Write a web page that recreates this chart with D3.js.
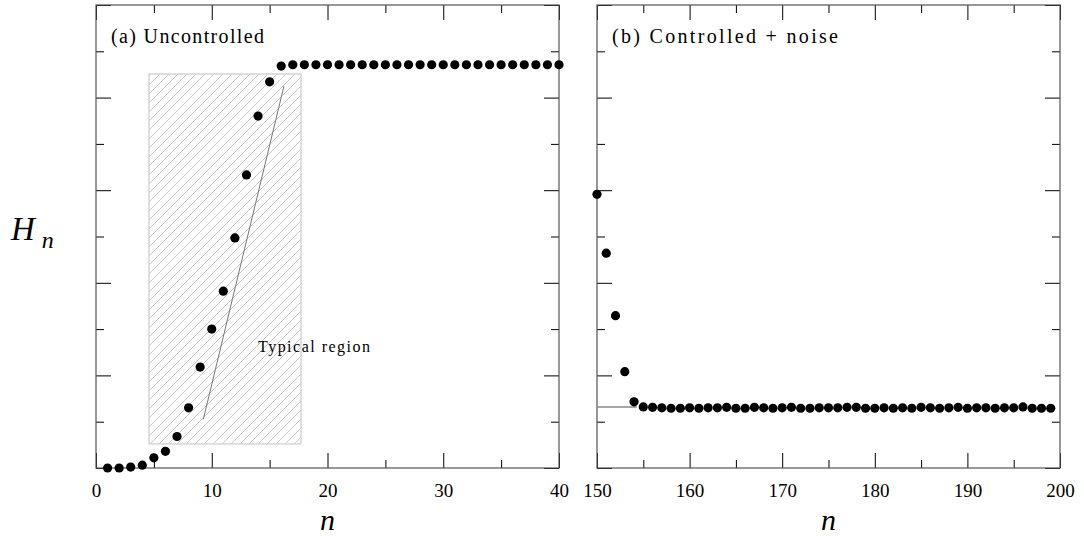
<!DOCTYPE html>
<html>
<head>
<meta charset="utf-8">
<script src="https://cdn.jsdelivr.net/npm/d3@7"></script>
<style>
	body { margin: 0; background: #fff; }
	text { font-family: "Liberation Serif", "DejaVu Serif", serif; fill: #000; }
</style>
</head>
<body>
<svg id="plot" width="1084" height="540"></svg>
<script>
// values, H_n for n = 1..40
const LEFT_START = 1;
const LEFT_VALUES = [0.00, 0.00, 0.02, 0.06, 0.22, 0.36, 0.68, 1.30, 2.18, 3.00,
	3.82, 4.97, 6.33, 7.60, 8.34, 8.68, 8.71, 8.71, 8.71, 8.71,
	8.71, 8.71, 8.71, 8.71, 8.71, 8.71, 8.71, 8.71, 8.71, 8.71,
	8.71, 8.71, 8.71, 8.71, 8.71, 8.71, 8.71, 8.71, 8.71, 8.71];

// H_n for n = 150..199
const RIGHT_START = 150;
const RIGHT_VALUES = [5.91, 4.64, 3.29, 2.08, 1.43, 1.32, 1.31, 1.30, 1.29, 1.29,
	1.30, 1.29, 1.30, 1.30, 1.31, 1.29, 1.29, 1.31, 1.30, 1.29,
	1.30, 1.31, 1.29, 1.29, 1.30, 1.30, 1.30, 1.31, 1.31, 1.29,
	1.29, 1.30, 1.29, 1.30, 1.29, 1.31, 1.30, 1.29, 1.30, 1.31,
	1.29, 1.30, 1.30, 1.29, 1.30, 1.30, 1.32, 1.29, 1.29, 1.29];

const LEFT_MAJOR = [0, 10, 20, 30, 40];
const LEFT_MINOR = [5, 15, 25, 35];
const RIGHT_MAJOR = [150, 160, 170, 180, 190, 200];
const RIGHT_MINOR = [155, 165, 175, 185, 195];
const Y_MAJOR = [0, 2, 4, 6, 8, 10];
const Y_MINOR = [1, 3, 5, 7, 9];

// shaded "typical region" box and the slanted guide line (data units)
const REGION = { x0: 4.58, x1: 17.71, y0: 0.52, y1: 8.51 };
const GUIDE = [[9.27, 1.05], [16.24, 8.25]];
// reference level in panel (b)
const TARGET = [[150, 1.32], [154.3, 1.32]];

const TOP = 5, BOTTOM = 468;
const SERIF = '"Liberation Serif", "DejaVu Serif", serif';

function whenDocumentLoaded(action) {
	if (document.readyState === "loading") {
		document.addEventListener("DOMContentLoaded", action);
	} else {
		action();
	}
}

function drawPanel(svg, opt) {
	let x = d3.scaleLinear().domain(opt.domain).range([opt.left, opt.right]);
	let y = d3.scaleLinear().domain([0, 10]).range([BOTTOM, TOP]);
	let g = svg.append('g');

	// ticks (inward, on all four sides)
	const axes = [
		[d3.axisBottom(x).tickValues(opt.major).tickSizeInner(-15).tickSizeOuter(0).tickPadding(16).tickFormat(d3.format('d')), `translate(0,${BOTTOM})`],
		[d3.axisBottom(x).tickValues(opt.minor).tickSizeInner(-8).tickSizeOuter(0).tickFormat(''), `translate(0,${BOTTOM})`],
		[d3.axisTop(x).tickValues(opt.major).tickSizeInner(-15).tickSizeOuter(0).tickFormat(''), `translate(0,${TOP})`],
		[d3.axisTop(x).tickValues(opt.minor).tickSizeInner(-8).tickSizeOuter(0).tickFormat(''), `translate(0,${TOP})`],
		[d3.axisLeft(y).tickValues(Y_MAJOR).tickSizeInner(-15).tickSizeOuter(0).tickFormat(''), `translate(${opt.left},0)`],
		[d3.axisLeft(y).tickValues(Y_MINOR).tickSizeInner(-8).tickSizeOuter(0).tickFormat(''), `translate(${opt.left},0)`],
		[d3.axisRight(y).tickValues(Y_MAJOR).tickSizeInner(-15).tickSizeOuter(0).tickFormat(''), `translate(${opt.right},0)`],
		[d3.axisRight(y).tickValues(Y_MINOR).tickSizeInner(-8).tickSizeOuter(0).tickFormat(''), `translate(${opt.right},0)`]
	];
	axes.forEach(a => {
		let ax = g.append('g').attr('transform', a[1]).call(a[0]);
		ax.select('.domain').remove();
		ax.selectAll('line').attr('stroke', '#000').attr('stroke-width', 1);
		ax.selectAll('text')
			.style('font-family', SERIF)
			.style('font-size', '19px')
			.attr('fill', '#000');
	});

	// frame
	g.append('rect')
		.attr('x', opt.left).attr('y', TOP)
		.attr('width', opt.right - opt.left).attr('height', BOTTOM - TOP)
		.attr('fill', 'none').attr('stroke', '#555').attr('stroke-width', 1.2);

	if (opt.extra) opt.extra(g, x, y);

	g.selectAll('circle.pt')
		.data(opt.values)
		.enter()
		.append('circle')
		.attr('class', 'pt')
		.attr('cx', (d, i) => x(opt.start + i))
		.attr('cy', d => y(d))
		.attr('r', 4.6)
		.attr('fill', '#000');

	g.append('text')
		.attr('x', opt.left + 15).attr('y', 43)
		.attr('font-size', 20)
		.attr('textLength', opt.titleWidth)
		.attr('lengthAdjust', 'spacing')
		.text(opt.title);

	g.append('text')
		.attr('x', (opt.left + opt.right) / 2).attr('y', 530)
		.attr('text-anchor', 'middle')
		.attr('font-size', 30).attr('font-style', 'italic')
		.text('n');
}

whenDocumentLoaded(() => {
	let svg = d3.select('#plot');

	let defs = svg.append('defs');
	defs.append('pattern')
		.attr('id', 'hatch')
		.attr('patternUnits', 'userSpaceOnUse')
		.attr('width', 9).attr('height', 9)
		.append('path')
		.attr('d', 'M-2,2 l4,-4 M0,9 l9,-9 M7,11 l4,-4')
		.attr('stroke', '#c8c8c8').attr('stroke-width', 1);

	drawPanel(svg, {
		domain: [0, 40], left: 96, right: 559,
		major: LEFT_MAJOR, minor: LEFT_MINOR,
		values: LEFT_VALUES, start: LEFT_START,
		title: '(a) Uncontrolled', titleWidth: 153,
		extra: (g, x, y) => {
			g.append('rect')
				.attr('x', x(REGION.x0)).attr('y', y(REGION.y1))
				.attr('width', x(REGION.x1) - x(REGION.x0))
				.attr('height', y(REGION.y0) - y(REGION.y1))
				.attr('fill', 'url(#hatch)')
				.attr('stroke', '#d6d6d6').attr('stroke-width', 1.5);
			g.append('path')
				.attr('d', d3.line().x(d => x(d[0])).y(d => y(d[1]))(GUIDE))
				.attr('stroke', '#777').attr('stroke-width', 1).attr('fill', 'none');
			g.append('text')
				.attr('x', 258).attr('y', 352)
				.attr('font-size', 16)
				.attr('textLength', 112)
				.attr('lengthAdjust', 'spacing')
				.text('Typical region');
		}
	});

	drawPanel(svg, {
		domain: [150, 200], left: 597, right: 1060,
		major: RIGHT_MAJOR, minor: RIGHT_MINOR,
		values: RIGHT_VALUES, start: RIGHT_START,
		title: '(b) Controlled + noise', titleWidth: 226,
		extra: (g, x, y) => {
			g.append('path')
				.attr('d', d3.line().x(d => x(d[0])).y(d => y(d[1]))(TARGET))
				.attr('stroke', '#888').attr('stroke-width', 1.5).attr('fill', 'none');
		}
	});

	// y label H_n
	let lab = svg.append('text').attr('x', 11).attr('y', 240).attr('font-style', 'italic');
	lab.append('tspan').attr('font-size', 33).text('H');
	lab.append('tspan').attr('font-size', 24).attr('dx', 7).attr('dy', 8).text('n');
});
</script>
</body>
</html>
